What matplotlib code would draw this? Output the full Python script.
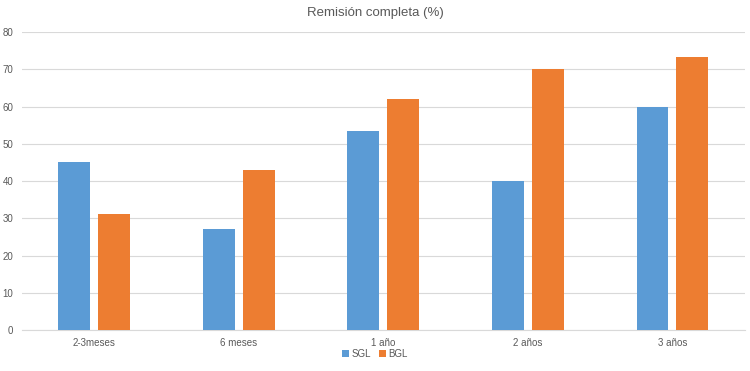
import matplotlib
matplotlib.use("Agg")
import matplotlib.pyplot as plt
import numpy as np

categories = ["2-3meses", "6 meses", "1 año", "2 años", "3 años"]
sgl = [45.0, 27.1, 53.3, 40.0, 60.0]
bgl = [31.2, 42.9, 62.1, 70.0, 73.3]

plt.rcParams['font.family'] = ['Liberation Sans Narrow', 'Liberation Sans', 'DejaVu Sans']

fig = plt.figure(figsize=(7.5, 3.71), dpi=100)
ax = fig.add_axes([0.029, 0.1105, 0.964, 0.8032])

x = np.arange(len(categories))
w = 0.22
ax.bar(x - 0.138, sgl, w, color="#5B9BD5", label="SGL", zorder=3)
ax.bar(x + 0.138, bgl, w, color="#ED7D31", label="BGL", zorder=3)

ax.set_xlim(-0.5, len(categories) - 0.5)
ax.set_ylim(0, 80)
ax.set_yticks(range(0, 81, 10))
ax.set_xticks(x)
ax.set_xticklabels(categories)
ax.grid(axis="y", color="#D9D9D9", linewidth=0.8, zorder=0)
for s in ["top", "right", "left"]:
    ax.spines[s].set_visible(False)
ax.spines["bottom"].set_color("#D9D9D9")
ax.tick_params(axis="both", length=0, labelsize=7, colors="#595959", pad=6)
ax.tick_params(axis="y", pad=6)

fig.suptitle("Remisión completa (%)", y=0.98, fontsize=9.5, color="#595959")
fig.legend(loc="center", bbox_to_anchor=(0.5, 0.045), ncol=2, frameon=False,
           fontsize=7, handlelength=0.7, handleheight=0.7, handletextpad=0.3,
           columnspacing=0.8, labelcolor="#595959", borderpad=0.1)

fig.savefig("out.png", dpi=100)
